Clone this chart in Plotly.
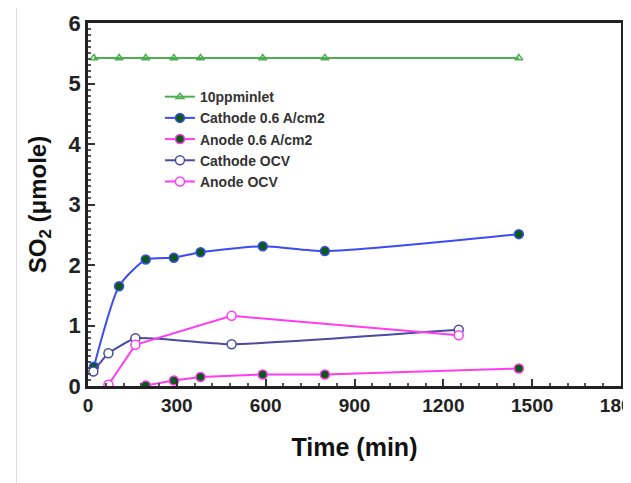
import plotly.graph_objects as go

t_main = [20, 105, 195, 290, 380, 590, 800, 1455]
inlet = [5.42, 5.42, 5.42, 5.42, 5.42, 5.42, 5.42, 5.42]
cath06 = [0.32, 1.65, 2.09, 2.12, 2.21, 2.31, 2.23, 2.51]
t_anode06 = [195, 290, 380, 590, 800, 1455]
anode06 = [0.01, 0.09, 0.15, 0.19, 0.19, 0.29]
t_ocv_c = [18, 69, 160, 485, 1252]
cath_ocv = [0.24, 0.54, 0.79, 0.69, 0.93]
t_ocv_a = [69, 160, 485, 1252]
anode_ocv = [0.02, 0.68, 1.16, 0.84]

x_ticks = [0, 300, 600, 900, 1200, 1500, 1800]
y_ticks = [0, 1, 2, 3, 4, 5, 6]

fig = go.Figure()
fig.add_trace(go.Scatter(x=t_main, y=inlet, name="10ppminlet", mode="lines+markers",
                         line=dict(color="#4caf50", width=2),
                         marker=dict(symbol="triangle-up-open", size=7, color="#4caf50", line=dict(width=1.5))))
fig.add_trace(go.Scatter(x=t_main, y=cath06, name="Cathode 0.6 A/cm2", mode="lines+markers",
                         line=dict(color="#3b4cf5", width=2, shape="spline", smoothing=0.6),
                         marker=dict(symbol="circle", size=9, color="#0b5a1a", line=dict(color="#3b4cf5", width=1.5))))
fig.add_trace(go.Scatter(x=t_anode06, y=anode06, name="Anode 0.6 A/cm2", mode="lines+markers",
                         line=dict(color="#ff3cf0", width=2),
                         marker=dict(symbol="circle", size=9, color="#0b5a1a", line=dict(color="#ff3cf0", width=1.5))))
fig.add_trace(go.Scatter(x=t_ocv_c, y=cath_ocv, name="Cathode OCV", mode="lines+markers",
                         line=dict(color="#4a4aa0", width=2, shape="spline", smoothing=0.4),
                         marker=dict(symbol="circle", size=9, color="white", line=dict(color="#4a4aa0", width=1.5))))
fig.add_trace(go.Scatter(x=t_ocv_a, y=anode_ocv, name="Anode OCV", mode="lines+markers",
                         line=dict(color="#ff3cf0", width=2),
                         marker=dict(symbol="circle", size=9, color="white", line=dict(color="#ff3cf0", width=1.5))))

font_fam = "Liberation Sans, Arial, sans-serif"
fig.update_layout(
    width=631, height=483,
    margin=dict(l=80, r=18, t=15, b=105),
    paper_bgcolor="white", plot_bgcolor="white",
    font=dict(family=font_fam, color="#222"),
    legend=dict(x=0.135, y=0.84, xanchor="left", yanchor="top",
                bgcolor="rgba(0,0,0,0)", font=dict(size=14, color="#333", family=font_fam),
                tracegroupgap=0, itemwidth=30),
    showlegend=True,
    shapes=[dict(type="line", xref="paper", yref="paper", x0=-0.134, x1=-0.134, y0=-0.3, y1=1.05,
                 line=dict(color="#dddddd", width=1))],
)
fig.for_each_trace(lambda tr: tr.update(name="<b>%s</b>" % tr.name))
fig.update_xaxes(range=[0, 1800], tickvals=x_ticks, ticktext=["<b>%d</b>" % v for v in x_ticks],
                 ticks="inside", ticklen=7, tickwidth=1.5, tickcolor="#333",
                 minor=dict(dtick=60, ticks="inside", ticklen=3, tickcolor="#555", showgrid=False),
                 showline=True, linecolor="#222", linewidth=2.5, mirror=True,
                 showgrid=False, zeroline=False, automargin=False, ticklabeloverflow="allow",
                 tickfont=dict(size=19, family=font_fam, color="#222"),
                 title=dict(text="<b>Time (min)</b>", font=dict(size=25, family=font_fam, color="#111"), standoff=24))
fig.update_yaxes(range=[0, 6], tickvals=y_ticks, ticktext=["<b>%d</b>" % v for v in y_ticks],
                 ticks="inside", ticklen=7, tickwidth=1.5, tickcolor="#333",
                 minor=dict(dtick=0.1, ticks="inside", ticklen=3, tickcolor="#555", showgrid=False),
                 showline=True, linecolor="#222", linewidth=2.5, mirror=True,
                 showgrid=False, zeroline=False, automargin=False, ticklabeloverflow="allow",
                 tickfont=dict(size=22, family=font_fam, color="#222"),
                 title=dict(text="<b>SO<sub>2</sub> (μmole)</b>", font=dict(size=24, family=font_fam, color="#111"), standoff=16))
fig.write_html("out.html")
